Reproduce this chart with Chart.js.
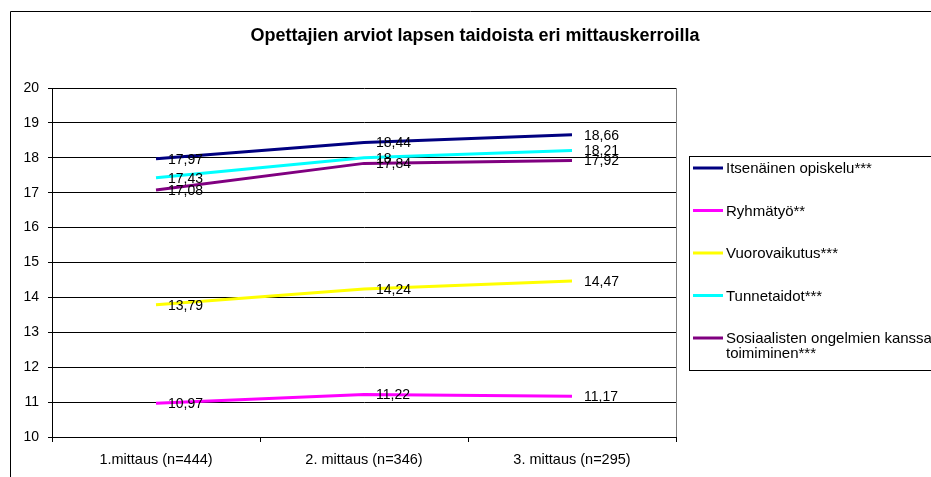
<!DOCTYPE html>
<html>
<head>
<meta charset="utf-8">
<script src="https://cdn.jsdelivr.net/npm/chart.js@4"></script>
<style>
  html, body { margin: 0; padding: 0; background: #fff; }
  #wrap { width: 931px; height: 477px; }
</style>
</head>
<body>
<div id="wrap"><canvas id="chart" width="931" height="477"></canvas></div>
<script>
const title = "Opettajien arviot lapsen taidoista eri mittauskerroilla";
const categories = ["1.mittaus (n=444)", "2. mittaus (n=346)", "3. mittaus (n=295)"];
const seriesNames = [
  "Itsenäinen opiskelu***",
  "Ryhmätyö**",
  "Vuorovaikutus***",
  "Tunnetaidot***",
  "Sosiaalisten ongelmien kanssa\ntoimiminen***",
];
const itsenainen = [17.97, 18.44, 18.66];
const ryhmatyo = [10.97, 11.22, 11.17];
const vuorovaikutus = [13.79, 14.24, 14.47];
const tunnetaidot = [17.43, 18, 18.21];
const sosiaalisten = [17.08, 17.84, 17.92];
const colors = ["#000080", "#FF00FF", "#FFFF00", "#00FFFF", "#800080"];
const yMin = 10;
const yMax = 20;

const FONT = "'Liberation Sans', Arial, sans-serif";

const values = [itsenainen, ryhmatyo, vuorovaikutus, tunnetaidot, sosiaalisten];

// value labels, title, outer frame and the boxed legend
const extras = {
  id: "extras",
  afterDatasetsDraw(chart) {
    const ctx = chart.ctx;
    const area = chart.chartArea;
    ctx.save();
    // right border of plot area
    ctx.strokeStyle = "#808080";
    ctx.lineWidth = 1;
    ctx.beginPath();
    ctx.moveTo(Math.round(area.right) + 0.5, area.top);
    ctx.lineTo(Math.round(area.right) + 0.5, area.bottom);
    ctx.stroke();

    ctx.font = "14px " + FONT;
    ctx.fillStyle = "#000";
    ctx.textAlign = "left";
    ctx.textBaseline = "middle";
    chart.data.datasets.forEach((ds, i) => {
      chart.getDatasetMeta(i).data.forEach((pt, j) => {
        const txt = String(ds.data[j]).replace(".", ",");
        ctx.fillText(txt, pt.x + 12, pt.y + 1);
      });
    });
    ctx.restore();
  },
  afterDraw(chart) {
    const ctx = chart.ctx;
    ctx.save();
    // frame
    ctx.strokeStyle = "#000";
    ctx.lineWidth = 1;
    ctx.beginPath();
    ctx.moveTo(10.5, 477);
    ctx.lineTo(10.5, 11.5);
    ctx.lineTo(931, 11.5);
    ctx.stroke();

    // title
    ctx.font = "bold 18px " + FONT;
    ctx.fillStyle = "#000";
    ctx.textAlign = "center";
    ctx.textBaseline = "middle";
    ctx.fillText(title, 475, 36);

    // legend
    ctx.strokeStyle = "#000";
    ctx.strokeRect(689.5, 156.5, 300, 214);
    ctx.font = "15px " + FONT;
    ctx.textAlign = "left";
    chart.data.datasets.forEach((ds, i) => {
      const y = 168 + i * 42.5;
      ctx.strokeStyle = ds.borderColor;
      ctx.lineWidth = 3;
      ctx.beginPath();
      ctx.moveTo(693, y);
      ctx.lineTo(723, y);
      ctx.stroke();
      ds.label.split("\n").forEach((line, k) => {
        ctx.fillText(line, 726, y + 1 + k * 15);
      });
    });
    ctx.restore();
  },
};

new Chart(document.getElementById("chart"), {
  type: "line",
  data: {
    labels: categories,
    datasets: seriesNames.map((name, i) => ({
      label: name,
      data: values[i],
      borderColor: colors[i],
      backgroundColor: colors[i],
      borderWidth: 3,
      pointRadius: 0,
      tension: 0,
    })),
  },
  options: {
    responsive: false,
    animation: false,
    layout: {
      padding: { top: 88, right: 255, left: 0, bottom: 0 },
    },
    scales: {
      x: {
        offset: true,
        afterFit(scale) {
          scale.height = 40;
        },
        grid: {
          offset: true,
          drawOnChartArea: false,
          tickLength: 5,
          color: "#000",
        },
        border: { color: "#000", width: 1 },
        ticks: {
          color: "#000",
          padding: 9,
          font: { size: 14.5, family: FONT },
          maxRotation: 0,
        },
      },
      y: {
        min: yMin,
        max: yMax,
        afterFit(scale) {
          scale.width = 52;
        },
        grid: {
          color: "#000",
          tickLength: 4,
        },
        border: { color: "#000", width: 1 },
        ticks: {
          stepSize: 1,
          color: "#000",
          padding: 9,
          font: { size: 14, family: FONT },
        },
      },
    },
    plugins: {
      legend: { display: false },
      tooltip: { enabled: false },
    },
  },
  plugins: [extras],
});
</script>
</body>
</html>
